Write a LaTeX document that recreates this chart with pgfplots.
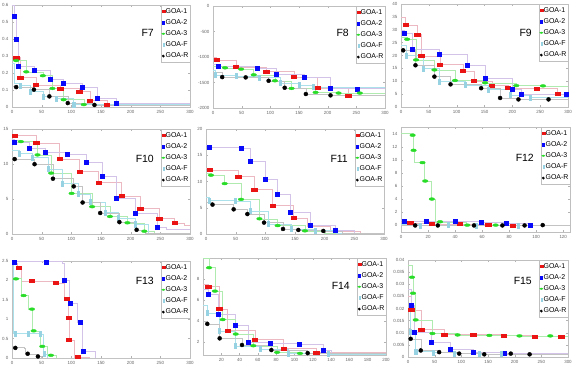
\documentclass[border=0pt]{standalone}
\usepackage{fontspec}
\setmainfont{Liberation Sans}
\usepackage{pgfplots}
\pgfplotsset{compat=1.18}
\definecolor{cR}{RGB}{235,20,20}
\definecolor{cB}{RGB}{10,10,250}
\definecolor{cG}{RGB}{40,220,40}
\definecolor{cF}{RGB}{150,210,225}
\definecolor{lR1}{RGB}{236,185,195}
\definecolor{lB2}{RGB}{212,195,232}
\definecolor{lG3}{RGB}{175,235,175}
\definecolor{lF}{RGB}{170,225,235}
\definecolor{lK}{RGB}{195,195,195}
\tikzset{
 ftitle/.style={font=\fontsize{10.5}{12}\selectfont, anchor=east, inner sep=0pt, xshift=-36bp},
 expo/.style={anchor=south west, font=\fontsize{4.5}{5}\selectfont, text=black!60, inner sep=0.5bp},
}
\pgfplotsset{
 l1/.style={const plot, color=lR1, line width=0.45bp, no marks, forget plot},
 l2/.style={const plot, color=lB2, line width=0.45bp, no marks, forget plot},
 l3/.style={const plot, color=lG3, line width=0.45bp, no marks, forget plot},
 lF/.style={const plot, color=lF, line width=0.45bp, no marks, forget plot},
 lR/.style={const plot, color=lK, line width=0.45bp, no marks, forget plot},
 m1/.style={only marks, color=cR, mark=square*, mark size=1.5bp, mark options={xscale=1.8}},
 m2/.style={only marks, color=cB, mark=square*, mark size=2bp},
 m3/.style={only marks, color=cG, mark=*, mark size=1.4bp, mark options={xscale=2}},
 mF/.style={only marks, color=cF, mark=square*, mark size=1.2bp, mark options={xscale=0.85, yscale=2.1}},
 mR/.style={only marks, color=black, mark=*, mark size=2bp},
 panel/.style={scale only axis, anchor=north west,
   axis line style={draw=gray!50, line width=0.4bp},
   tick style={draw=gray!60, line width=0.3bp}, major tick length=1.6bp,
   ticklabel style={font=\fontsize{4.5}{5}\selectfont, text=black!60},
   /pgf/number format/assume math mode=true, scaled ticks=false,
   /pgf/number format/1000 sep={},
   xmin=0, xmax=300, xtick={0,50,...,300},
   legend entries={GOA-1,GOA-2,GOA-3,GOA-F,GOA-R},
   legend cell align=left,
   legend image code/.code={\draw[#1, only marks, every mark/.append style={scale=0.6}] plot coordinates {(2.5bp,0bp)};},
   legend style={at={(1,1)}, anchor=north east, font=\fontsize{7}{8}\selectfont,
     draw=gray!50, line width=0.3bp, fill=white, inner xsep=0.8bp, inner ysep=2bp,
     row sep=2.6bp, /tikz/every even column/.append style={column sep=0pt},
     nodes={inner xsep=0.6bp, inner ysep=1.1bp}},
 },
}
\begin{document}
\begin{tikzpicture}
\useasboundingbox (0,0) rectangle (576bp,-372bp);
% ---------------- F7
\begin{axis}[panel, at={(12bp,-5bp)}, width=178bp, height=102bp,
  ymin=0, ymax=0.6, ytick={0,0.1,0.2,0.3,0.4,0.5,0.6}]
\addplot[l1] coordinates {(0,0.30) (7,0.29) (14,0.174) (40,0.131) (81,0.109) (113,0.09) (131,0.039) (160,0.012) (300,0.012)};
\addplot[l2] coordinates {(0,0.60) (4,0.535) (7,0.398) (10,0.238) (38,0.217) (64,0.164) (87,0.141) (119,0.115) (144,0.051) (175,0.02) (300,0.018)};
\addplot[l3] coordinates {(0,0.28) (7,0.273) (24,0.207) (52,0.184) (68,0.109) (87,0.043) (121,0.014) (300,0.01)};
\addplot[lF] coordinates {(0,0.26) (3,0.14) (14,0.128) (30,0.092) (52,0.063) (74,0.05) (104,0.014) (300,0.008)};
\addplot[lR] coordinates {(0,0.12) (7,0.117) (37,0.102) (63,0.0625) (94,0.023) (139,0.012) (300,0.01)};
\addplot[m1] coordinates {(7,0.29) (14,0.174) (40,0.131) (81,0.109) (113,0.09) (131,0.039) (160,0.012)};
\addplot[m2] coordinates {(4,0.535) (7,0.398) (10,0.238) (38,0.217) (64,0.164) (87,0.141) (119,0.115) (144,0.051) (175,0.02)};
\addplot[m3] coordinates {(7,0.273) (24,0.207) (52,0.184) (68,0.109) (87,0.043) (121,0.014)};
\addplot[mF] coordinates {(14,0.128) (30,0.092) (52,0.063) (74,0.05) (104,0.014)};
\addplot[mR] coordinates {(7,0.117) (37,0.102) (63,0.0625) (94,0.023) (139,0.012)};
\node[ftitle, yshift=-28bp] at (rel axis cs:1,1) {F7};
\end{axis}
% ---------------- F8
\begin{axis}[panel, at={(213bp,-6bp)}, width=172bp, height=102bp,
  ymin=-2000, ymax=0, ytick={-2000,-1500,-1000,-500,0}]
\addplot[l1] coordinates {(0,-1000) (6,-1062) (40,-1199) (93,-1283) (141,-1394) (182,-1609) (236,-1752) (300,-1752)};
\addplot[l2] coordinates {(0,-1150) (9,-1186) (77,-1218) (111,-1342) (159,-1388) (204,-1603) (251,-1622) (300,-1640)};
\addplot[l3] coordinates {(0,-1190) (21,-1212) (49,-1238) (71,-1349) (108,-1466) (137,-1616) (179,-1694) (219,-1707) (256,-1707) (300,-1710)};
\addplot[lF] coordinates {(0,-1250) (4,-1349) (41,-1368) (81,-1400) (118,-1511) (151,-1544) (175,-1590) (300,-1690)};
\addplot[lR] coordinates {(0,-1300) (16,-1394) (57,-1400) (97,-1466) (125,-1603) (162,-1726) (205,-1752) (300,-1752)};
\addplot[m1] coordinates {(6,-1062) (40,-1199) (93,-1283) (141,-1394) (182,-1609) (236,-1752)};
\addplot[m2] coordinates {(9,-1186) (77,-1218) (111,-1342) (159,-1388) (204,-1603) (251,-1622)};
\addplot[m3] coordinates {(21,-1212) (49,-1238) (71,-1349) (108,-1466) (137,-1616) (179,-1694) (219,-1707) (256,-1707)};
\addplot[mF] coordinates {(4,-1349) (41,-1368) (81,-1400) (118,-1511) (151,-1544) (175,-1590)};
\addplot[mR] coordinates {(16,-1394) (57,-1400) (97,-1466) (125,-1603) (162,-1726) (205,-1752)};
\node[ftitle, yshift=-27bp] at (rel axis cs:1,1) {F8};
\end{axis}
% ---------------- F9
\begin{axis}[panel, at={(401bp,-4bp)}, width=167bp, height=103bp,
  ymin=0, ymax=40, ytick={0,5,10,15,20,25,30,35,40}]
\addplot[l1] coordinates {(0,35) (8,31.8) (29,28.2) (36,19.9) (70,16.5) (111,14) (131,10.1) (163,8.3) (192,7.4) (244,7.3) (281,5.0) (300,5.0)};
\addplot[l2] coordinates {(0,30) (5,28.8) (21,22.4) (68,20.5) (119,16.3) (151,11) (200,6.8) (216,5.1) (297,5.0) (300,5.0)};
\addplot[l3] coordinates {(0,27) (11,26.3) (27,18.3) (60,14.4) (97,10.3) (151,9.4) (207,8.3) (255,8.2) (300,8.2)};
\addplot[lF] coordinates {(0,24) (10,20.1) (40,15) (69,9.9) (115,8.6) (157,6.9) (197,4.7) (232,3.7) (300,3.6)};
\addplot[lR] coordinates {(0,23) (4,22) (26,16.2) (60,11.8) (89,8.8) (144,7.3) (178,3.5) (211,2.95) (265,2.95) (300,2.95)};
\addplot[m1] coordinates {(8,31.8) (29,28.2) (36,19.9) (70,16.5) (111,14) (131,10.1) (163,8.3) (192,7.4) (244,7.3) (281,5.0)};
\addplot[m2] coordinates {(5,28.8) (21,22.4) (68,20.5) (119,16.3) (151,11) (200,6.8) (216,5.1) (297,5.0)};
\addplot[m3] coordinates {(11,26.3) (27,18.3) (60,14.4) (97,10.3) (151,9.4) (207,8.3) (255,8.2)};
\addplot[mF] coordinates {(10,20.1) (40,15) (69,9.9) (115,8.6) (157,6.9) (197,4.7) (232,3.7)};
\addplot[mR] coordinates {(4,22) (26,16.2) (60,11.8) (89,8.8) (144,7.3) (178,3.5) (211,2.95) (265,2.95)};
\node[ftitle, yshift=-29bp] at (rel axis cs:1,1) {F9};
\end{axis}
% ---------------- F10
\begin{axis}[panel, at={(12bp,-129bp)}, width=178bp, height=105bp,
  ymin=0, ymax=15, ytick={0,5,10,15}]
\addplot[l1] coordinates {(0,14.3) (4.5,14.04) (41,13.03) (80,10.7) (114,8.96) (146,7.38) (184.5,5.46) (216,3.64) (248,2.25) (274,1.58) (290,1.3) (300,1.3)};
\addplot[l2] coordinates {(0,13.5) (3.4,13.08) (29,12.2) (55.5,11.7) (92.5,11.45) (124.5,10.3) (152.5,8.3) (175,5.1) (207.5,2.97) (244,0.91) (260,0.7) (300,0.7)};
\addplot[l3] coordinates {(0,13.4) (15,13.2) (43,11.3) (66,8.7) (100.5,5.8) (135,3.9) (165,2.5) (194.5,1.6) (223,0.4) (240,0.05) (300,0.05)};
\addplot[lF] coordinates {(0,12) (12,11.5) (33.6,10.9) (60.6,9.3) (84,7.2) (112,5.75) (132,4.6) (157,3.1) (179.5,2.3) (207.5,1.4) (230,0.05) (300,0.05)};
\addplot[lR] coordinates {(0,11) (4.5,10.7) (38,9.97) (69,7.9) (104,6.8) (119,4.5) (148.6,3.0) (181,1.7) (210,0.6) (225,0.05) (300,0.05)};
\addplot[m1] coordinates {(4.5,14.04) (41,13.03) (80,10.7) (114,8.96) (146,7.38) (184.5,5.46) (216,3.64) (248,2.25) (274,1.58)};
\addplot[m2] coordinates {(3.4,13.08) (29,12.2) (55.5,11.7) (92.5,11.45) (124.5,10.3) (152.5,8.3) (175,5.1) (207.5,2.97) (244,0.91)};
\addplot[m3] coordinates {(15,13.2) (43,11.3) (66,8.7) (100.5,5.8) (135,3.9) (165,2.5) (194.5,1.6) (223,0.4)};
\addplot[mF] coordinates {(12,11.5) (33.6,10.9) (60.6,9.3) (84,7.2) (112,5.75) (132,4.6) (157,3.1) (179.5,2.3) (207.5,1.4)};
\addplot[mR] coordinates {(4.5,10.7) (38,9.97) (69,7.9) (104,6.8) (119,4.5) (148.6,3.0) (181,1.7) (210,0.6)};
\node[ftitle, yshift=-30bp] at (rel axis cs:1,1) {F10};
\end{axis}
% ---------------- F11
\begin{axis}[panel, at={(206bp,-129bp)}, width=178bp, height=105bp,
  ymin=0, ymax=20, ytick={0,5,10,15,20}]
\addplot[l1] coordinates {(0,12.5) (6.7,12.2) (54.5,11.0) (81.5,8.5) (112.4,5.4) (147.8,3.07) (170,1.5) (210,0.6) (260,0.2) (300,0.2)};
\addplot[l2] coordinates {(0,17) (5,16.6) (59,16.4) (74.7,13.9) (100.6,10.4) (120,7.5) (141.6,4.15) (176.4,1.6) (217.4,0.64) (250,0.1) (300,0.1)};
\addplot[l3] coordinates {(0,11.5) (8.4,11.2) (31.5,9.6) (59,6.6) (90,2.9) (120.8,1.6) (166.8,0.6) (200,0.1) (300,0.1)};
\addplot[lF] coordinates {(0,7) (5,6.4) (49,6.3) (74,4.35) (105,1.9) (143,0.96) (183.7,0.64) (220,0.1) (300,0.1)};
\addplot[lR] coordinates {(0,6) (11,5.6) (46.6,4.7) (69.7,3.8) (97.8,2.17) (129.8,0.96) (155.6,0.77) (197.7,0.58) (230,0.1) (300,0.1)};
\addplot[m1] coordinates {(6.7,12.2) (54.5,11.0) (81.5,8.5) (112.4,5.4) (147.8,3.07)};
\addplot[m2] coordinates {(5,16.6) (59,16.4) (74.7,13.9) (100.6,10.4) (120,7.5) (141.6,4.15) (176.4,1.6) (217.4,0.64)};
\addplot[m3] coordinates {(8.4,11.2) (31.5,9.6) (59,6.6) (90,2.9) (120.8,1.6) (166.8,0.6)};
\addplot[mF] coordinates {(5,6.4) (49,6.3) (74,4.35) (105,1.9) (143,0.96) (183.7,0.64)};
\addplot[mR] coordinates {(11,5.6) (46.6,4.7) (69.7,3.8) (97.8,2.17) (129.8,0.96) (155.6,0.77) (197.7,0.58)};
\node[ftitle, yshift=-30bp] at (rel axis cs:1,1) {F11};
\end{axis}
% ---------------- F12
\begin{axis}[panel, at={(401bp,-127bp)}, width=169bp, height=105bp,
  xmin=0, xmax=125, xtick={0,20,40,60,80,100,120},
  ymin=-1, ymax=15, ytick={0,2,4,6,8,10,12,14}]
\addplot[l1] coordinates {(0,0.5) (6.9,0.41) (22.8,0.2) (43.6,0.2) (64.4,0.05) (82.8,0.0) (125,0)};
\addplot[l2] coordinates {(0,0.8) (2.7,0.71) (18.6,0.65) (40,0.65) (59,0.56) (77.9,0.36) (95.5,0.05) (125,0.05)};
\addplot[l3] coordinates {(0,14) (9,11.45) (9.8,9.57) (17.5,6.77) (22,4.02) (25,0.56) (48,0.05) (125,0.05)};
\addplot[lF] coordinates {(0,0.15) (14.2,0.1) (35,0.1) (55.8,0) (125,0)};
\addplot[lR] coordinates {(0,0.05) (10.5,0) (125,0)};
\addplot[m1] coordinates {(6.9,0.41) (22.8,0.2) (43.6,0.2) (64.4,0.05) (82.8,0.0)};
\addplot[m2] coordinates {(2.7,0.71) (18.6,0.61) (40,0.71) (59,0.56) (77.9,0.36) (95.5,0.05)};
\addplot[m3] coordinates {(8.6,13.75) (9.3,11.45) (15.9,9.57) (17.9,6.77) (22.8,4.02) (28.9,0.56) (49,0.05) (70,0.05)};
\addplot[mF] coordinates {(14.2,0) (35,0.1) (55.8,0) (86.5,0)};
\addplot[mR] coordinates {(10.5,0) (27.2,0) (54,0) (75,0) (91.4,0) (104.8,0.05)};
\node[ftitle, yshift=-31bp] at (rel axis cs:1,1) {F12};
\node[expo] at (rel axis cs:0,1) {$\times10^{4}$};
\end{axis}
% ---------------- F13
\begin{axis}[panel, at={(12bp,-261bp)}, width=178bp, height=97bp,
  ymin=0, ymax=2.5, ytick={0,0.5,1,1.5,2,2.5}]
\addplot[l1] coordinates {(0,2.45) (8,2.34) (15,1.99) (70,1.94) (88,1.52) (94,1.05) (96,0.46) (105,0.03) (130,0) (300,0)};
\addplot[l2] coordinates {(0,2.5) (85,2.45) (88,2.0) (96,1.4) (110,0.92) (118,0.17) (140,0.0) (300,0)};
\addplot[l3] coordinates {(0,2.05) (15,1.61) (28,1.26) (34,0.70) (48,0.30) (60,0.07) (75,0) (300,0)};
\addplot[lF] coordinates {(0,2.5) (2,0.65) (50,0.62) (52,0.1) (60,0) (300,0)};
\addplot[lR] coordinates {(0,0.27) (20,0.26) (22,0.11) (40,0.04) (50,0) (300,0)};
\addplot[m1] coordinates {(11.2,2.34) (33.6,1.99) (74,1.94) (92.5,1.52) (96,1.05) (96,0.46) (110.5,0.03)};
\addplot[m2] coordinates {(3.4,2.48) (58,2.48) (88.6,2.0) (98.7,1.4) (115.5,0.92) (120.6,0.17)};
\addplot[m3] coordinates {(6.7,2.04) (19.6,1.61) (33.6,1.26) (36.5,0.70) (51,0.30) (65.6,0.07)};
\addplot[mF] coordinates {(5.6,0.62) (28,0.62) (47,0.62) (55,0.1)};
\addplot[mR] coordinates {(5.6,0.26) (26.4,0.11) (43.7,0.04)};
\node[ftitle, yshift=-20bp] at (rel axis cs:1,1) {F13};
\node[expo] at (rel axis cs:0,1) {$\times10^{5}$};
\end{axis}
% ---------------- F14
\begin{axis}[panel, at={(203bp,-258bp)}, width=183bp, height=97bp,
  xmin=0, xmax=200, xtick={20,40,60,80,100,120,140,160,180,200},
  ymin=0.8, ymax=10, ytick={2,4,6,8}]
\addplot[l1] coordinates {(0,7.5) (5.8,7.3) (17.5,5.17) (27,3.14) (56.8,2.25) (88,1.43) (123.5,1.02) (200,1.0)};
\addplot[l2] coordinates {(0,7) (5.8,6.54) (17,4.67) (35.7,3.59) (49.5,2.03) (73,1.9) (105,1.87) (131,1.3) (140,1.0) (200,1.0)};
\addplot[l3] coordinates {(0,10) (6.6,9.08) (13,6.86) (21.5,4.16) (35.7,2.79) (55,1.68) (81,1.05) (106,0.95) (200,0.95)};
\addplot[lF] coordinates {(0,5.5) (4.7,4.8) (17.8,3.1) (35.3,1.68) (62.3,1.37) (93,0.95) (137,0.89) (200,0.89)};
\addplot[lR] coordinates {(0,4) (4.7,3.75) (18.2,2.38) (42.6,1.75) (74.7,1.27) (114.4,0.98) (200,0.98)};
\addplot[m1] coordinates {(5.8,7.3) (17.5,5.17) (27,3.14) (56.8,2.25) (88,1.43) (123.5,1.02)};
\addplot[m2] coordinates {(5.8,6.54) (17,4.67) (35.7,3.59) (49.5,2.03) (73,1.9) (105,1.87) (131,1.3)};
\addplot[m3] coordinates {(6.6,9.08) (13,6.86) (21.5,4.16) (35.7,2.79) (55,1.68) (81,1.05) (106,0.95)};
\addplot[mF] coordinates {(4.7,4.8) (17.8,3.1) (35.3,1.68) (62.3,1.37) (93,0.95) (137,0.89)};
\addplot[mR] coordinates {(4.7,3.75) (18.2,2.38) (42.6,1.75) (74.7,1.27) (114.4,0.98)};
\node[ftitle, yshift=-28bp] at (rel axis cs:1,1) {F14};
\end{axis}
% ---------------- F15
\begin{axis}[panel, at={(408bp,-260bp)}, width=160bp, height=97bp,
  ymin=0, ymax=0.04, ytick={0,0.005,0.01,0.015,0.02,0.025,0.03,0.035,0.04},
  yticklabels={0,0.005,0.01,0.015,0.02,0.025,0.03,0.035,0.04}]
\addplot[l1] coordinates {(0,0.025) (6.3,0.0194) (25,0.0113) (67.8,0.0093) (122,0.0093) (179,0.0089) (237,0.0085) (287.5,0.0085) (300,0.0085)};
\addplot[l2] coordinates {(0,0.028) (6.3,0.0213) (11.3,0.0101) (42.7,0.0061) (78.5,0.0031) (122,0.0018) (181,0.0014) (300,0.0012)};
\addplot[l3] coordinates {(0,0.038) (7.5,0.0329) (9.4,0.0263) (14.4,0.0153) (45.8,0.0097) (93,0.0091) (152.5,0.0089) (209,0.0087) (266.8,0.0087) (300,0.0087)};
\addplot[lF] coordinates {(0,0.02) (4.4,0.0106) (14.4,0.0022) (47,0.0018) (86,0.0015) (133,0.0012) (174.5,0.0012) (300,0.0011)};
\addplot[lR] coordinates {(0,0.012) (5,0.0075) (23.9,0.0027) (58.4,0.002) (96,0.0014) (143,0.0011) (192.7,0.0011) (228,0.0011) (300,0.0011)};
\addplot[m1] coordinates {(6.3,0.0194) (25,0.0113) (67.8,0.0093) (122,0.0093) (179,0.0089) (237,0.0085) (287.5,0.0085)};
\addplot[m2] coordinates {(6.3,0.0213) (11.3,0.0101) (42.7,0.0061) (78.5,0.0031) (122,0.0018) (181,0.0014)};
\addplot[m3] coordinates {(7.5,0.0329) (9.4,0.0263) (14.4,0.0153) (45.8,0.0097) (93,0.0091) (152.5,0.0089) (209,0.0087) (266.8,0.0087)};
\addplot[mF] coordinates {(4.4,0.0106) (14.4,0.0022) (47,0.0018) (86,0.0015) (133,0.0012) (174.5,0.0012)};
\addplot[mR] coordinates {(5,0.0075) (23.9,0.0027) (58.4,0.002) (96,0.0014) (143,0.0011) (192.7,0.0014) (228,0.0011)};
\node[ftitle, yshift=-21bp] at (rel axis cs:1,1) {F15};
\end{axis}
\end{tikzpicture}
\end{document}
